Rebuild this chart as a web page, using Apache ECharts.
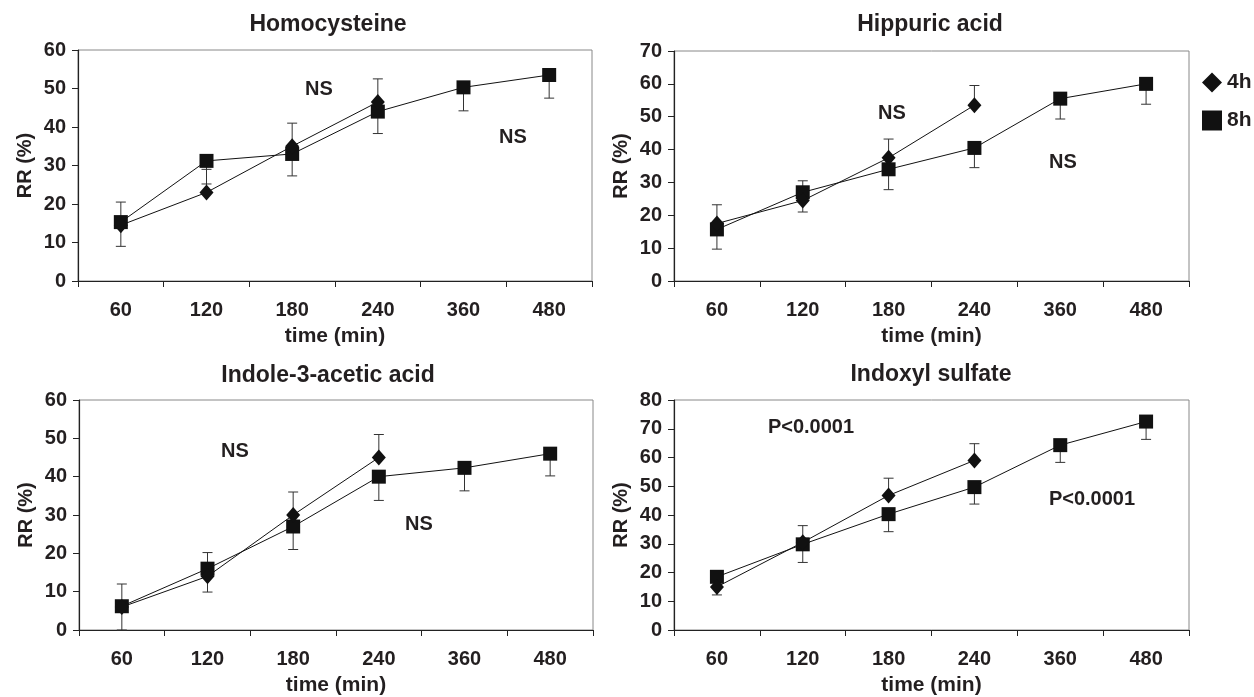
<!DOCTYPE html>
<html>
<head>
<meta charset="utf-8">
<script src="https://cdn.jsdelivr.net/npm/echarts@6/dist/echarts.min.js"></script>
<style>
html,body{margin:0;padding:0;background:#fff;}
#chart{width:1254px;height:697px;}
</style>
</head>
<body>
<div id="chart"></div>
<script>
// ---- data ----
const categories = ['60', '120', '180', '240', '360', '480'];
const panelTitles = ['Homocysteine', 'Hippuric acid', 'Indole-3-acetic acid', 'Indoxyl sulfate'];
const yMaxes = [60, 70, 60, 80];

// Homocysteine
const hcy4h = [14.5, 23, 35, 46.5];
const hcy4hErrTop = [20.5, 29, 41, 52.5];
const hcy8h = [15.3, 31.2, 33, 44, 50.3, 53.5];
const hcy8hErrBottom = [9, 25.2, 27.3, 38.3, 44.2, 47.5];

// Hippuric acid
const hip4h = [17.5, 24.5, 37.5, 53.5];
const hip4hErrTop = [23.2, 30.5, 43.2, 59.5];
const hip8h = [15.7, 27, 34, 40.5, 55.5, 60];
const hip8hErrBottom = [9.7, 21, 27.8, 34.5, 49.3, 53.8];

// Indole-3-acetic acid
const ind4h = [6, 14, 30, 45];
const ind4hErrTop = [12, 20.2, 36, 51];
const ind8h = [6.2, 16, 27, 40, 42.3, 46];
const ind8hErrBottom = [0, 9.9, 21, 33.8, 36.3, 40.2];

// Indoxyl sulfate
const ixs4h = [15, 30.5, 46.8, 59];
const ixs4hErrTop = [19.5, 36.3, 52.8, 64.8];
const ixs8h = [18.5, 29.8, 40.3, 49.7, 64.3, 72.5];
const ixs8hErrBottom = [12.2, 23.5, 34.2, 43.8, 58.3, 66.3];

const annotations = [
  ['NS', 319, 89], ['NS', 513, 137],
  ['NS', 892, 113], ['NS', 1063, 162],
  ['NS', 235, 451], ['NS', 419, 524],
  ['P<0.0001', 811, 427], ['P<0.0001', 1092, 499]
];

// ---- layout ----
const FONT = '"Liberation Sans", Arial, sans-serif';
const TXT = '#231f20';
const grids = [
  {left: 78, top: 50, width: 514, height: 231},
  {left: 674, top: 51, width: 515, height: 230},
  {left: 79, top: 400, width: 514, height: 231},
  {left: 674, top: 400, width: 515, height: 230}
];
const titleCenters = [[328, 25], [930, 25], [328, 376], [931, 375]];

const panels = [
  [hcy4h, hcy4hErrTop, hcy8h, hcy8hErrBottom],
  [hip4h, hip4hErrTop, hip8h, hip8hErrBottom],
  [ind4h, ind4hErrTop, ind8h, ind8hErrBottom],
  [ixs4h, ixs4hErrTop, ixs8h, ixs8hErrBottom]
];

function errorRender(params, api) {
  const x = api.value(0);
  const p0 = api.coord([x, api.value(1)]);
  const p1 = api.coord([x, api.value(2)]);
  const cap = 5;
  const st = {stroke: '#333', lineWidth: 1};
  return {
    type: 'group',
    children: [
      {type: 'line', shape: {x1: p0[0], y1: p0[1], x2: p1[0], y2: p1[1]}, style: st},
      {type: 'line', shape: {x1: p1[0] - cap, y1: p1[1], x2: p1[0] + cap, y2: p1[1]}, style: st}
    ]
  };
}

const xAxes = [], yAxes = [], series = [];
grids.forEach((g, i) => {
  g.show = true; g.borderColor = '#888'; g.borderWidth = 1; g.backgroundColor = 'transparent';
  xAxes.push({
    type: 'category', gridIndex: i, data: categories, boundaryGap: true,
    name: 'time (min)', nameLocation: 'middle', nameGap: 45,
    nameTextStyle: {fontFamily: FONT, fontWeight: 'bold', fontSize: 21, color: TXT},
    axisLine: {lineStyle: {color: '#222', width: 1.2}},
    axisTick: {show: true, length: 6, inside: false, lineStyle: {color: '#222'}},
    axisLabel: {fontFamily: FONT, fontWeight: 'bold', fontSize: 20, color: TXT, margin: 19}
  });
  yAxes.push({
    type: 'value', gridIndex: i, min: 0, max: yMaxes[i], interval: 10,
    name: 'RR (%)', nameLocation: 'middle', nameGap: 43, nameRotate: 90,
    nameTextStyle: {fontFamily: FONT, fontWeight: 'bold', fontSize: 20, color: TXT},
    axisLine: {show: true, lineStyle: {color: '#222', width: 1.2}},
    axisTick: {show: true, length: 6, lineStyle: {color: '#222'}},
    splitLine: {show: false},
    axisLabel: {fontFamily: FONT, fontWeight: 'bold', fontSize: 20, color: TXT, margin: 12}
  });
  const [v4, e4, v8, e8] = panels[i];
  series.push({
    type: 'custom', xAxisIndex: i, yAxisIndex: i, z: 1, silent: true,
    renderItem: errorRender, encode: {x: 0, y: [1, 2]},
    data: v4.map((v, k) => [k, v, e4[k]])
  });
  series.push({
    type: 'custom', xAxisIndex: i, yAxisIndex: i, z: 1, silent: true,
    renderItem: errorRender, encode: {x: 0, y: [1, 2]},
    data: v8.map((v, k) => [k, v, e8[k]])
  });
  series.push({
    name: '4h', type: 'line', xAxisIndex: i, yAxisIndex: i, z: 3, data: v4,
    symbol: 'diamond', symbolSize: [14, 16],
    lineStyle: {color: '#111', width: 1}, itemStyle: {color: '#111', borderWidth: 0}
  });
  series.push({
    name: '8h', type: 'line', xAxisIndex: i, yAxisIndex: i, z: 2, data: v8,
    symbol: 'rect', symbolSize: 14,
    lineStyle: {color: '#111', width: 1}, itemStyle: {color: '#111', borderWidth: 0}
  });
});

const textEls = annotations.map(a => ({
  type: 'text', x: a[1], y: a[2],
  style: {text: a[0], font: 'bold 20px ' + FONT, fill: TXT,
          align: 'center', verticalAlign: 'middle'}
}));
const titleEls = panelTitles.map((t, i) => ({
  type: 'text', x: titleCenters[i][0], y: titleCenters[i][1],
  style: {text: t, font: 'bold 23px ' + FONT, fill: TXT,
          align: 'center', verticalAlign: 'middle'}
}));

const chart = echarts.init(document.getElementById('chart'), null, {renderer: 'canvas'});
chart.setOption({
  animation: false,
  backgroundColor: '#fff',
  grid: grids,
  xAxis: xAxes,
  yAxis: yAxes,
  legend: {
    orient: 'vertical', left: 1197, top: 67, itemWidth: 20, itemHeight: 20, itemGap: 17,
    textStyle: {fontFamily: FONT, fontWeight: 'bold', fontSize: 21, color: TXT},
    data: [{name: '4h', icon: 'diamond'}, {name: '8h', icon: 'rect'}],
    itemStyle: {color: '#111'}
  },
  series: series,
  graphic: titleEls.concat(textEls)
});
</script>
</body>
</html>
